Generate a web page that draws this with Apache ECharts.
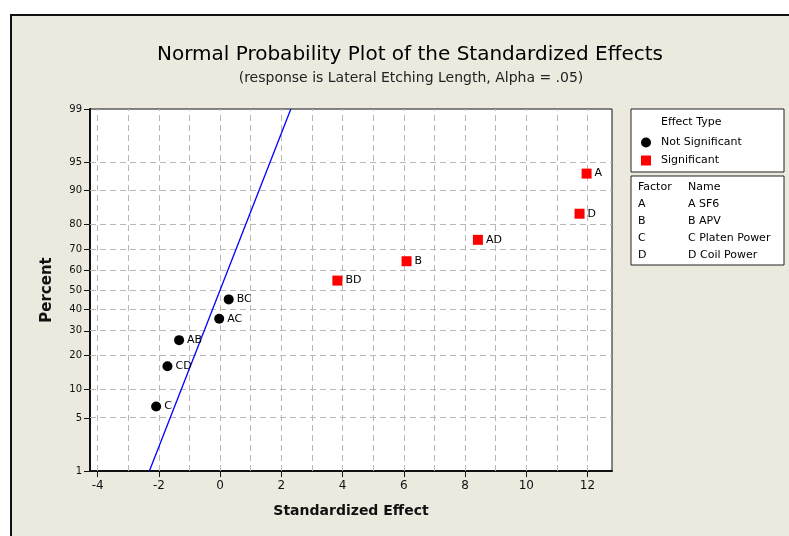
<!DOCTYPE html>
<html>
<head>
<meta charset="utf-8">
<script src="https://cdn.jsdelivr.net/npm/echarts@6/dist/echarts.min.js"></script>
<style>
html,body{margin:0;padding:0;background:#fff;}
#main{width:789px;height:536px;}
</style>
</head>
<body>
<div id="main"></div>
<script>
// percent ticks on the probability axis
var yTicks = [1, 5, 10, 20, 30, 40, 50, 60, 70, 80, 90, 95, 99];
var yGrid = [5, 10, 20, 30, 40, 50, 60, 70, 80, 90, 95];
var xTicks = [-4, -2, 0, 2, 4, 6, 8, 10, 12];
var xGrid = [-4, -3, -2, -1, 0, 1, 2, 3, 4, 5, 6, 7, 8, 9, 10, 11, 12];

// not significant effects
var nsNames = ['C', 'CD', 'AB', 'AC', 'BC'];
var nsEffect = [-2.09, -1.72, -1.34, -0.03, 0.28];
var nsPercent = [6.73, 16.35, 25.96, 35.58, 45.19];

// significant effects
var sNames = ['BD', 'B', 'AD', 'D', 'A'];
var sEffect = [3.83, 6.09, 8.42, 11.74, 11.97];
var sPercent = [54.81, 64.42, 74.04, 83.65, 93.27];

// fitted line
var lineEffect = [-2.31, 2.31];
var linePercent = [1, 99];

var factors = ['A', 'B', 'C', 'D'];
var factorNames = ['A SF6', 'B APV', 'C Platen Power', 'D Coil Power'];

var FONT = 'DejaVu Sans';

//正态分位数 (Acklam)
function probit(p) {
    var a = [-3.969683028665376e+01, 2.209460984245205e+02, -2.759285104469687e+02, 1.383577518672690e+02, -3.066479806614716e+01, 2.506628277459239e+00];
    var b = [-5.447609879822406e+01, 1.615858368580409e+02, -1.556989798598866e+02, 6.680131188771972e+01, -1.328068155288572e+01];
    var c = [-7.784894002430293e-03, -3.223964580411365e-01, -2.400758277161838e+00, -2.549732467023388e+00, 4.374664141464968e+00, 2.938163982698783e+00];
    var d = [7.784695709041462e-03, 3.224671290700398e-01, 2.445134137142996e+00, 3.754408661907416e+00];
    var plow = 0.02425, q, r;
    if (p < plow) {
        q = Math.sqrt(-2 * Math.log(p));
        return (((((c[0] * q + c[1]) * q + c[2]) * q + c[3]) * q + c[4]) * q + c[5]) /
            ((((d[0] * q + d[1]) * q + d[2]) * q + d[3]) * q + 1);
    }
    if (p <= 1 - plow) {
        q = p - 0.5; r = q * q;
        return (((((a[0] * r + a[1]) * r + a[2]) * r + a[3]) * r + a[4]) * r + a[5]) * q /
            (((((b[0] * r + b[1]) * r + b[2]) * r + b[3]) * r + b[4]) * r + 1);
    }
    q = Math.sqrt(-2 * Math.log(1 - p));
    return -(((((c[0] * q + c[1]) * q + c[2]) * q + c[3]) * q + c[4]) * q + c[5]) /
        ((((d[0] * q + d[1]) * q + d[2]) * q + d[3]) * q + 1);
}

function pts(xs, ps, names) {
    var out = [];
    for (var i = 0; i < xs.length; i++) {
        out.push({value: [xs[i], probit(ps[i] / 100)], name: names ? names[i] : ''});
    }
    return out;
}

var yTickZ = yTicks.map(function (p) { return probit(p / 100); });

var chart = echarts.init(document.getElementById('main'));

var graphics = [
    {type: 'rect', z: -10, shape: {x: 11, y: 15, width: 800, height: 540},
        style: {fill: '#ece9df', stroke: '#111', lineWidth: 2}},
    {type: 'rect', shape: {x: 631, y: 109, width: 153, height: 63},
        style: {fill: '#fff', stroke: '#222', lineWidth: 1}},
    {type: 'rect', shape: {x: 631, y: 176, width: 153, height: 89},
        style: {fill: '#fff', stroke: '#222', lineWidth: 1}},
    {type: 'text', x: 661, y: 122, style: {text: 'Effect Type', font: '11px ' + FONT, fill: '#000', verticalAlign: 'middle'}},
    {type: 'text', x: 638, y: 187, style: {text: 'Factor', font: '11px ' + FONT, fill: '#000', verticalAlign: 'middle'}},
    {type: 'text', x: 688, y: 187, style: {text: 'Name', font: '11px ' + FONT, fill: '#000', verticalAlign: 'middle'}}
];
for (var i = 0; i < factors.length; i++) {
    graphics.push({type: 'text', x: 638, y: 204 + i * 17,
        style: {text: factors[i], font: '11px ' + FONT, fill: '#000', verticalAlign: 'middle'}});
    graphics.push({type: 'text', x: 688, y: 204 + i * 17,
        style: {text: factorNames[i], font: '11px ' + FONT, fill: '#000', verticalAlign: 'middle'}});
}

var labelOpt = {show: true, position: 'right', distance: 3, formatter: '{b}',
    color: '#000', fontFamily: FONT, fontSize: 11};

chart.setOption({
    animation: false,
    backgroundColor: '#fff',
    textStyle: {fontFamily: FONT},
    title: [{
        text: 'Normal Probability Plot of the Standardized Effects',
        left: 405, top: 40, textAlign: 'center',
        textStyle: {fontFamily: FONT, fontSize: 20, fontWeight: 'normal', color: '#000'}
    }, {
        text: '(response is Lateral Etching Length, Alpha = .05)',
        left: 406, top: 66, textAlign: 'center',
        textStyle: {fontFamily: FONT, fontSize: 14, fontWeight: 'normal', color: '#222'}
    }],
    legend: {
        data: ['Not Significant', 'Significant'],
        orient: 'vertical', left: 641, top: 137, padding: 0,
        itemWidth: 10, itemHeight: 10, itemGap: 7,
        textStyle: {fontFamily: FONT, fontSize: 11, color: '#000', padding: [0, 0, 0, 5]}
    },
    graphic: graphics,
    grid: {left: 90, top: 109, right: 177, bottom: 65, show: true,
        backgroundColor: '#fff', borderColor: '#111', borderWidth: 1},
    xAxis: {
        type: 'value', min: -4.25, max: 12.8,
        name: 'Standardized Effect', nameLocation: 'middle', nameGap: 33,
        nameTextStyle: {fontFamily: FONT, fontSize: 14, fontWeight: 'bold', color: '#111'},
        axisLine: {show: true, onZero: false, lineStyle: {color: '#111', width: 2}},
        axisTick: {show: true, length: 6, customValues: xTicks, lineStyle: {color: '#111'}},
        axisLabel: {customValues: xTicks, fontFamily: FONT, fontSize: 12, color: '#111', margin: 9},
        splitLine: {show: false}
    },
    yAxis: {
        type: 'value', min: yTickZ[0], max: yTickZ[yTickZ.length - 1],
        name: 'Percent', nameLocation: 'middle', nameGap: 35, nameRotate: 90,
        nameTextStyle: {fontFamily: FONT, fontSize: 15, fontWeight: 'bold', color: '#111'},
        axisLine: {show: true, onZero: false, lineStyle: {color: '#111', width: 2}},
        axisTick: {show: true, length: 6, customValues: yTickZ, lineStyle: {color: '#111'}},
        axisLabel: {customValues: yTickZ, fontFamily: FONT, fontSize: 10, color: '#111', margin: 8,
            formatter: function (v) {
                var best = 0;
                for (var k = 1; k < yTickZ.length; k++) {
                    if (Math.abs(yTickZ[k] - v) < Math.abs(yTickZ[best] - v)) best = k;
                }
                return yTicks[best];
            }},
        splitLine: {show: false}
    },
    series: [{
        name: 'grid', type: 'line', data: [], silent: true, z: 1,
        markLine: {
            silent: true, symbol: 'none', animation: false, z: 1,
            label: {show: false},
            lineStyle: {color: '#b8b8b8', width: 1, type: [6, 4]},
            data: yGrid.map(function (p) { return {yAxis: probit(p / 100)}; })
                .concat(xGrid.map(function (v) { return {xAxis: v}; }))
        }
    }, {
        name: 'fit', type: 'line', z: 2, silent: true,
        data: pts(lineEffect, linePercent),
        showSymbol: false, symbol: 'none',
        lineStyle: {color: '#0000ff', width: 1.3}
    }, {
        name: 'Not Significant', type: 'scatter', z: 3,
        symbol: 'circle', symbolSize: 10,
        itemStyle: {color: '#000', opacity: 1},
        label: labelOpt,
        data: pts(nsEffect, nsPercent, nsNames)
    }, {
        name: 'Significant', type: 'scatter', z: 3,
        symbol: 'rect', symbolSize: 10,
        itemStyle: {color: '#ff0000', opacity: 1},
        label: labelOpt,
        data: pts(sEffect, sPercent, sNames)
    }]
});
</script>
</body>
</html>
